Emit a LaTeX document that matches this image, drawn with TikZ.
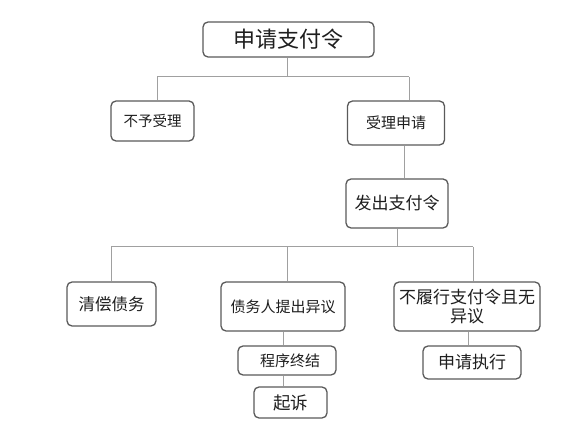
\documentclass[tikz,border=0pt]{standalone}
\usepackage{fontspec}
\setmainfont{Noto Sans CJK SC}
\definecolor{boxgray}{HTML}{5A5A5A}
\definecolor{linegray}{HTML}{A0A0A0}
\definecolor{txt}{HTML}{1E1E1E}
\begin{document}
\begin{tikzpicture}[x=1pt,y=-1pt,
  box/.style={draw=boxgray, line width=1.3pt, rounded corners=5pt, fill=white,
    inner sep=0pt, align=center, text=txt},
  link/.style={draw=linegray, line width=1pt},
  fs/.style={font=\fontsize{#1}{19}\selectfont}]
\useasboundingbox[fill=white] (0,0) rectangle (576,430);

\node[box, fs=22, minimum width=171pt, minimum height=35pt] (top) at (288.5,39.5) {申请支付令};
\node[box, fs=14.5, minimum width=83pt, minimum height=40pt] (bu) at (152.5,121) {不予受理};
\node[box, fs=15, minimum width=97pt, minimum height=44pt] (sl) at (396,123) {受理申请};
\node[box, fs=17, minimum width=102pt, minimum height=49pt] (fc) at (397,203.5) {发出支付令};
\node[box, fs=16.5, minimum width=89pt, minimum height=44pt] (qc) at (111.5,304) {清偿债务};
\node[box, fs=15, minimum width=124pt, minimum height=49pt] (yy) at (283,306.5) {债务人提出异议};
\node[box, fs=17, minimum width=146pt, minimum height=49pt] (bl) at (467,306.5) {不履行支付令且无\\异议};
\node[box, fs=15, minimum width=98pt, minimum height=29pt] (zj) at (287,360.5) {\hspace{6pt}程序终结};
\node[box, fs=17.5, minimum width=73pt, minimum height=31pt] (qs) at (290.5,402.5) {起诉};
\node[box, fs=17, minimum width=98pt, minimum height=33pt] (zx) at (472,362.5) {申请执行};

% first bus
\coordinate (b1) at (287,77);
\coordinate (b1l) at (157,77);
\coordinate (b1r) at (409,77);
\draw[link] (b1 |- top.south) -- (b1);
\draw[link] (b1l) -- (b1r);
\draw[link] (b1l) -- (b1l |- bu.north);
\draw[link] (b1r) -- (b1r |- sl.north);

% second level
\coordinate (s2) at (404,0);
\draw[link] (s2 |- sl.south) -- (s2 |- fc.north);

% second bus
\coordinate (b2) at (397,247);
\coordinate (b2l) at (111,247);
\coordinate (b2m) at (287,247);
\coordinate (b2r) at (473,247);
\draw[link] (b2 |- fc.south) -- (b2);
\draw[link] (b2l) -- (b2r);
\draw[link] (b2l) -- (b2l |- qc.north);
\draw[link] (b2m) -- (b2m |- yy.north);
\draw[link] (b2r) -- (b2r |- bl.north);

% lower links
\coordinate (c1) at (283,0);
\draw[link] (c1 |- yy.south) -- (c1 |- zj.north);
\draw[link] (c1 |- zj.south) -- (c1 |- qs.north);
\coordinate (c2) at (468,0);
\draw[link] (c2 |- bl.south) -- (c2 |- zx.north);
\end{tikzpicture}
\end{document}
